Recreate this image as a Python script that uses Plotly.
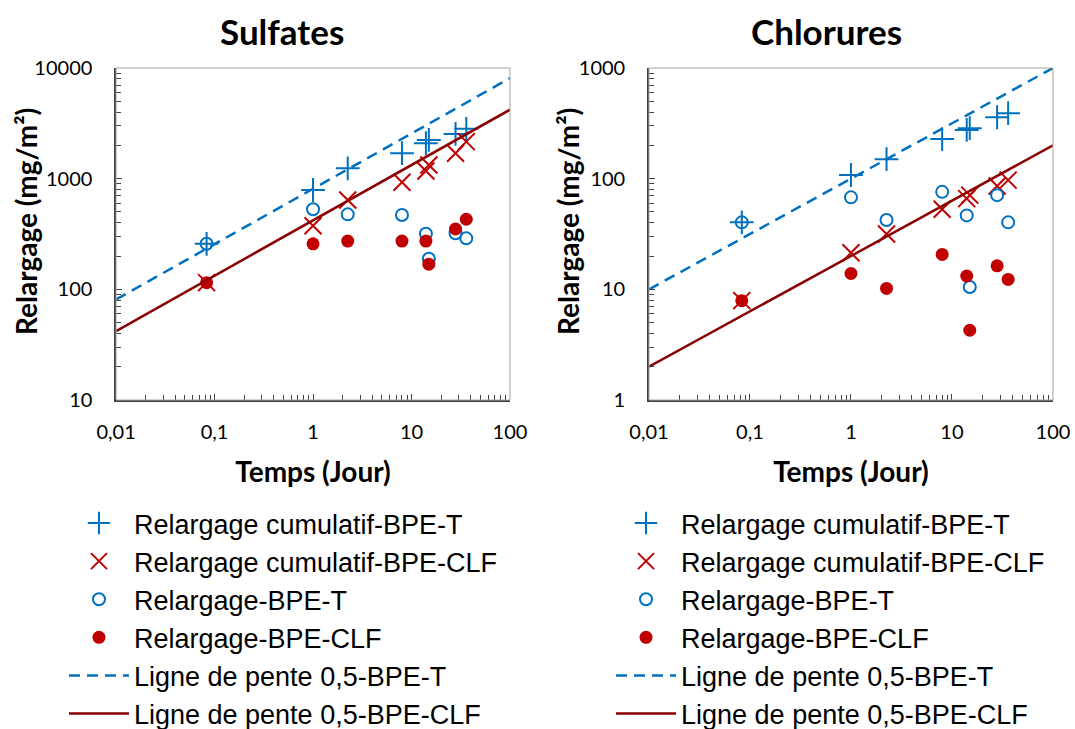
import plotly.graph_objects as go
from plotly.subplots import make_subplots

# temps (jour)
temps = [0.083, 1, 2.25, 8, 14, 15, 28, 36]

# Sulfates (mg/m2)
sulf_cumul_T = [258, 790, 1240, 1700, 2090, 2240, 2540, 2820]
sulf_cumul_CLF = [115, 376, 641, 927, 1175, 1330, 1700, 2160]
sulf_T = [258, 529, 476, 470, 318, 189, 321, 289]
sulf_CLF = [115, 258, 273, 273, 273, 169, 351, 430]

# Chlorures (mg/m2)
chl_cumul_T = [40.3, 108, 150, 228, 276, 286, 359, 391]
chl_cumul_CLF = [7.9, 21.4, 31.6, 53, 66, 71, 86, 97]
chl_T = [40.3, 67.8, 42.3, 76, 46.6, 10.5, 71, 40.3]
chl_CLF = [7.9, 13.9, 10.2, 20.7, 13.2, 4.27, 16.3, 12.3]

# lignes de pente 0,5
ligne_x = [0.01, 100]
sulf_ligne_T = [81, 8100]
sulf_ligne_CLF = [42, 4200]
chl_ligne_T = [10, 1000]
chl_ligne_CLF = [2, 200]

BLEU = '#0070C0'
ROUGE = '#C00000'
ROUGE_FONCE = '#8B0000'

fig = make_subplots(rows=1, cols=2)


def ajouter_series(col, legende, cumul_T, cumul_CLF, rel_T, rel_CLF, lig_T, lig_CLF):
    g = legende
    fig.add_trace(go.Scatter(
        x=temps, y=cumul_T, mode='markers', name='Relargage cumulatif-BPE-T',
        marker=dict(symbol='cross-thin', size=17, line=dict(color=BLEU, width=2)),
        legend=legende, legendgroup=g + '1'), row=1, col=col)
    fig.add_trace(go.Scatter(
        x=temps, y=cumul_CLF, mode='markers', name='Relargage cumulatif-BPE-CLF',
        marker=dict(symbol='x-thin', size=17, line=dict(color=ROUGE, width=2)),
        legend=legende, legendgroup=g + '2'), row=1, col=col)
    fig.add_trace(go.Scatter(
        x=temps, y=rel_T, mode='markers', name='Relargage-BPE-T',
        marker=dict(symbol='circle-open', size=12, color=BLEU, line=dict(color=BLEU, width=2)),
        legend=legende, legendgroup=g + '3'), row=1, col=col)
    fig.add_trace(go.Scatter(
        x=temps, y=rel_CLF, mode='markers', name='Relargage-BPE-CLF',
        marker=dict(symbol='circle', size=13, color=ROUGE),
        legend=legende, legendgroup=g + '4'), row=1, col=col)
    fig.add_trace(go.Scatter(
        x=ligne_x, y=lig_T, mode='lines', name='Ligne de pente 0,5-BPE-T',
        line=dict(color=BLEU, width=2.5, dash='11px,7px'),
        legend=legende, legendgroup=g + '5'), row=1, col=col)
    fig.add_trace(go.Scatter(
        x=ligne_x, y=lig_CLF, mode='lines', name='Ligne de pente 0,5-BPE-CLF',
        line=dict(color=ROUGE_FONCE, width=2.5),
        legend=legende, legendgroup=g + '6'), row=1, col=col)


ajouter_series(1, 'legend', sulf_cumul_T, sulf_cumul_CLF, sulf_T, sulf_CLF, sulf_ligne_T, sulf_ligne_CLF)
ajouter_series(2, 'legend2', chl_cumul_T, chl_cumul_CLF, chl_T, chl_CLF, chl_ligne_T, chl_ligne_CLF)

# petites graduations 2..9 de chaque décade
mineures = [m * 10.0 ** e for e in range(-2, 5) for m in range(2, 10)]

police = 'Lato, Carlito, Calibri, sans-serif'
axe_x = dict(
    type='log', range=[-2, 2], tickvals=[0.01, 0.1, 1, 10, 100],
    ticktext=['0,01', '0,1', '1', '10', '100'],
    ticks='inside', ticklen=6, tickcolor='#404040', showline=True, linecolor='#404040', linewidth=1.5,
    showgrid=False, zeroline=False, ticklabelstandoff=13,
    minor=dict(ticks='inside', ticklen=5, tickcolor='#404040', showgrid=False, tickvals=mineures),
    tickfont=dict(family=police, size=20, color='black'),
    title=dict(text='<b>Temps (Jour)</b>', font=dict(family=police, size=28, color='black'), standoff=21),
)
axe_y = dict(
    type='log', ticks='inside', ticklen=6, tickcolor='#404040', showline=True, linecolor='#404040',
    linewidth=1.5, showgrid=False, zeroline=False, ticklabelstandoff=18,
    minor=dict(ticks='inside', ticklen=5, tickcolor='#404040', showgrid=False, tickvals=mineures),
    tickfont=dict(family=police, size=20, color='black'),
)

fig.update_xaxes(axe_x)
fig.update_yaxes(axe_y)
fig.update_xaxes(domain=[0.108, 0.4744], row=1, col=1)
fig.update_xaxes(domain=[0.6037, 0.9795], row=1, col=2)
fig.update_yaxes(domain=[0.4513, 0.9067], range=[1, 4], tickvals=[10, 100, 1000, 10000],
                 ticktext=['10', '100', '1000', '10000'], row=1, col=1)
fig.update_yaxes(domain=[0.4513, 0.9067], range=[0, 3], tickvals=[1, 10, 100, 1000],
                 ticktext=['1', '10', '100', '1000'], row=1, col=2)

# cadre gris de la zone de tracé
for xr, yr in [('x domain', 'y domain'), ('x2 domain', 'y2 domain')]:
    fig.add_shape(type='rect', xref=xr, yref=yr, x0=0, x1=1, y0=0, y1=1,
                  line=dict(color='#A6A6A6', width=1))

# titres des graphiques
for texte, xpos in [('Sulfates', 0.2623), ('Chlorures', 0.7684)]:
    fig.add_annotation(text=f'<b>{texte}</b>', x=xpos, y=0.9575, xref='paper', yref='paper',
                       xanchor='center', yanchor='middle', showarrow=False,
                       font=dict(family=police, size=35, color='black'))

# titres des axes verticaux
for xpos in [0.0242, 0.5284]:
    fig.add_annotation(text='<b>Relargage (mg/m²)</b>', x=xpos, y=0.6955, xref='paper', yref='paper',
                       xanchor='center', yanchor='middle', textangle=-90, showarrow=False,
                       font=dict(family=police, size=28, color='black'))

legende_style = dict(
    font=dict(family='Liberation Sans, Arial, sans-serif', size=27, color='black'),
    yanchor='top', y=0.3155, xanchor='left', traceorder='grouped', tracegroupgap=0,
    bgcolor='rgba(0,0,0,0)', itemwidth=60,
)
fig.update_layout(
    width=1075, height=729,
    margin=dict(l=0, r=0, t=0, b=0, autoexpand=False),
    plot_bgcolor='white', paper_bgcolor='white',
    legend=dict(legende_style, x=0.0595),
    legend2=dict(legende_style, x=0.5684),
    showlegend=True,
)

# page sans marge pour que la figure remplisse la fenêtre
fig.write_html('out.html', config={'displayModeBar': False},
               post_script="document.body.style.margin='0';document.body.style.overflow='hidden';")
